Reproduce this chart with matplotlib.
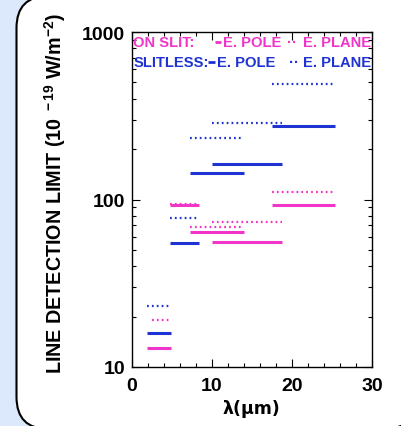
import matplotlib
matplotlib.use("Agg")
import matplotlib.pyplot as plt
from matplotlib.patches import FancyBboxPatch
from matplotlib.lines import Line2D
from matplotlib.ticker import FixedLocator, MultipleLocator, NullFormatter

plt.rcParams['font.family'] = ['Liberation Sans', 'DejaVu Sans']
plt.rcParams['mathtext.fontset'] = 'custom'
plt.rcParams['mathtext.rm'] = 'Liberation Sans:bold'
plt.rcParams['mathtext.bf'] = 'Liberation Sans:bold'
plt.rcParams['mathtext.default'] = 'rm'

MAGENTA = '#f035c8'
BLUE = '#1f32d2'

# ON SLIT, E. POLE (solid magenta)
slit_pole_x0 = [1.9, 4.7, 7.25, 10.0, 17.5]
slit_pole_x1 = [4.9, 8.4, 14.0, 18.8, 25.4]
slit_pole_y = [13, 93, 64, 56, 93]
# ON SLIT, E. PLANE (dotted magenta)
slit_plane_x0 = [2.5, 4.7, 7.25, 10.0, 17.5]
slit_plane_x1 = [4.7, 8.4, 13.7, 18.8, 25.4]
slit_plane_y = [19, 94, 68.5, 73, 111]
# SLITLESS, E. POLE (solid blue)
sless_pole_x0 = [1.9, 4.7, 7.25, 10.0, 17.5]
sless_pole_x1 = [4.9, 8.4, 14.0, 18.8, 25.4]
sless_pole_y = [16, 55, 143, 163, 276]
# SLITLESS, E. PLANE (dotted blue)
sless_plane_x0 = [1.9, 4.7, 7.25, 10.0, 17.5]
sless_plane_x1 = [4.7, 8.4, 13.7, 18.8, 25.4]
sless_plane_y = [23, 78, 234, 285, 491]

xticks = [0, 10, 20, 30]
yticks = [10, 100, 1000]

W, H = 401, 427
fig = plt.figure(figsize=(W / 100, H / 100), dpi=100)
fig.patch.set_facecolor('#dce8fb')

box = FancyBboxPatch((0.165, -0.03), 4.0, 4.33,
                     boxstyle='round,pad=0,rounding_size=0.32',
                     transform=fig.dpi_scale_trans, facecolor='white',
                     edgecolor='black', linewidth=1.5, zorder=-5)
fig.patches.append(box)

AX_L, AX_R, AX_T, AX_B = 132, 372, 33, 368
ax = fig.add_axes([AX_L / W, 1 - AX_B / H, (AX_R - AX_L) / W, (AX_B - AX_T) / H])
ax.set_zorder(5)
ax.set_facecolor('white')
ax.set_yscale('log')
ax.set_xlim(0, 30)
ax.set_ylim(10, 1000)

def segs(x0, x1, y, color, dotted):
    for a, b, v in zip(x0, x1, y):
        if dotted:
            ax.plot([a, b], [v, v], color=color, lw=1.6,
                    linestyle=(0, (0.8, 1.4)), solid_capstyle='butt')
        else:
            ax.plot([a, b], [v, v], color=color, lw=2.2,
                    solid_capstyle='butt')

segs(slit_pole_x0, slit_pole_x1, slit_pole_y, MAGENTA, False)
segs(slit_plane_x0, slit_plane_x1, slit_plane_y, MAGENTA, True)
segs(sless_pole_x0, sless_pole_x1, sless_pole_y, BLUE, False)
segs(sless_plane_x0, sless_plane_x1, sless_plane_y, BLUE, True)

ax.xaxis.set_major_locator(FixedLocator(xticks))
ax.xaxis.set_minor_locator(MultipleLocator(2))
ax.yaxis.set_major_locator(FixedLocator(yticks))
ax.set_xticklabels([str(t) for t in xticks])
ax.set_yticklabels([str(t) for t in yticks])
ax.yaxis.set_minor_formatter(NullFormatter())
ax.tick_params(which='both', direction='in', top=True, right=True, width=0.8)
ax.tick_params(which='major', length=6, labelsize=14)
ax.tick_params(which='minor', length=3)
ax.tick_params(axis='x', which='major', pad=7.5)
ax.tick_params(axis='y', which='major', pad=5)
for lab in ax.get_xticklabels() + ax.get_yticklabels():
    lab.set_fontweight('bold')
for s in ax.spines.values():
    s.set_linewidth(1.0)

fig.text((AX_L + AX_R) / 2 / W - 0.002, 1 - 409 / H, 'λ(μm)', fontsize=12.5,
         fontweight='bold', ha='center', va='center', family=['DejaVu Sans'])
fig.text(55 / W, 1 - 194 / H,
         r'LINE DETECTION LIMIT (10$^{\ -19}$ W/m$^{-2}$)',
         fontsize=14.2, fontweight='bold', rotation=90,
         ha='center', va='center')

def fx(px):
    return (px - AX_L) / (AX_R - AX_L)

def fy(py):
    return 1 - (py - AX_T) / (AX_B - AX_T)

LEG_FS = 10.6
legend_rows = [
    (MAGENTA, 43, (215, 221), [(133, 'ON SLIT:'), (223, 'E. POLE'),
                               (287, '··'), (303, 'E. PLANE')]),
    (BLUE, 63, (208, 215), [(134, 'SLITLESS:'), (217, 'E. POLE'),
                            (289, '··'), (303, 'E. PLANE')]),
]
for color, py, (d0, d1), pieces in legend_rows:
    ax.add_line(Line2D([fx(d0), fx(d1)], [fy(py), fy(py)], transform=ax.transAxes,
                       color=color, lw=2.0, solid_capstyle='butt'))
    for px, s in pieces:
        ax.text(fx(px), fy(py), s, transform=ax.transAxes, color=color,
                fontsize=LEG_FS, fontweight='bold', ha='left', va='center',
                clip_on=True)

fig.savefig('out.png', dpi=100, facecolor=fig.get_facecolor())
